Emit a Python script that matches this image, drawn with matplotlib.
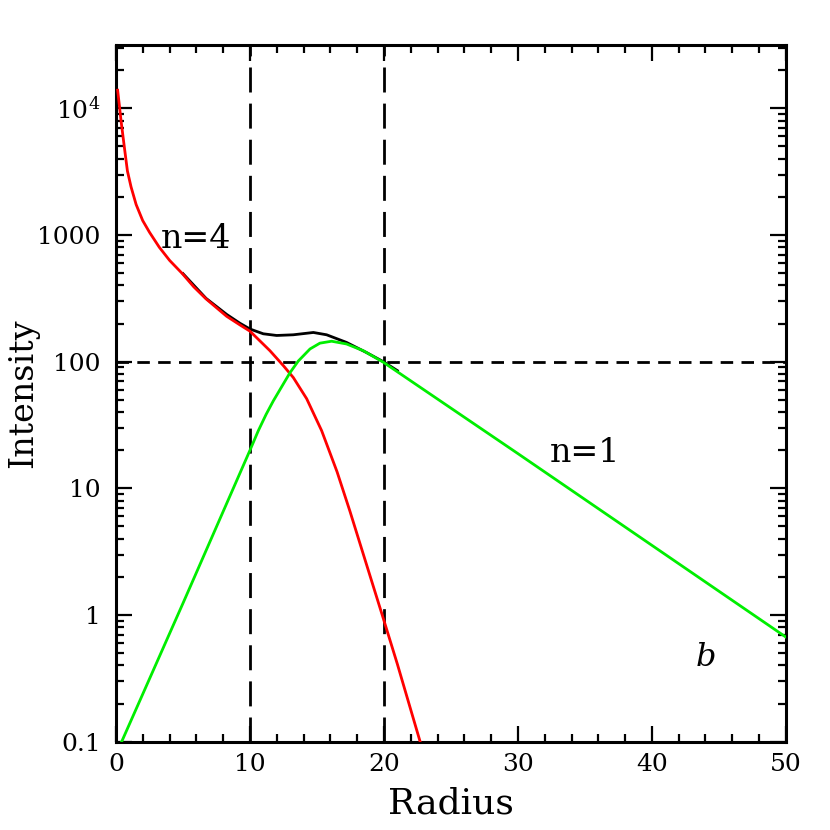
import matplotlib
matplotlib.use('Agg')
import matplotlib.pyplot as plt
from matplotlib.ticker import FixedLocator, FixedFormatter, MultipleLocator, LogLocator, NullFormatter

plt.rcParams['font.family'] = 'DejaVu Serif'
plt.rcParams['mathtext.fontset'] = 'dejavuserif'
plt.rcParams['lines.scale_dashes'] = False

# values (radius, intensity)
r_n4 = [0.12, 0.25, 0.37, 0.62, 0.85, 1.12, 1.5, 1.99, 2.5, 3.23, 4.0, 4.97, 5.8, 6.72, 8.26, 9.25,
        10.0, 11.49, 12.49, 13.23, 14.23, 15.35, 16.5, 17.46, 18.7, 19.95, 21.0, 22.7]
i_n4 = [13900, 10500, 8040, 4940, 3200, 2400, 1740, 1300, 1050, 800, 630, 493, 390, 313, 228, 195,
        174, 122, 93, 75, 51, 28.5, 13.5, 6.6, 2.5, 0.94, 0.41, 0.1]

r_n1 = [0.42, 5.0, 10.0, 10.62, 11.2, 11.74, 12.99, 13.6, 14.48, 15.22, 16.09, 17.2, 18.46, 19.95,
        30.0, 40.0, 50.0]
i_n1 = [0.1, 1.24, 20, 28.5, 38.3, 49, 82, 101, 126, 140, 145, 138, 122, 99,
        18.8, 3.55, 0.67]

r_tot = [5.0, 6.72, 8.26, 9.25, 10.0, 10.99, 11.99, 13.23, 14.73, 15.72, 17.2, 18.7, 19.95, 21.0]
i_tot = [495, 316, 236, 201, 181, 166, 161, 163, 170, 163, 142, 118, 100, 85]

v_lines = [10, 20]
h_line = 100

y_ticks = [0.1, 1, 10, 100, 1000, 1e4]
y_labels = ['0.1', '1', '10', '100', '1000', r'$10^4$']

fig = plt.figure(figsize=(8.3, 8.3), dpi=100)
ax = fig.add_axes([0.1398, 0.1064, 0.807, 0.8394])

ax.plot(r_tot, i_tot, color='black', lw=2, zorder=3)
ax.plot(r_n4, i_n4, color='#ff0000', lw=2, zorder=4)
ax.plot(r_n1, i_n1, color='#00ee00', lw=2, zorder=4)

for v in v_lines:
    ax.axvline(v, color='black', lw=2, dashes=(18, 8), zorder=2)
ax.axhline(h_line, color='black', lw=2, dashes=(9, 6), zorder=2)

ax.set_yscale('log')
ax.set_xlim(0, 50)
ax.set_ylim(0.1, 10 ** 4.5)

ax.xaxis.set_major_locator(MultipleLocator(10))
ax.xaxis.set_minor_locator(MultipleLocator(2))
ax.yaxis.set_major_locator(FixedLocator(y_ticks))
ax.yaxis.set_major_formatter(FixedFormatter(y_labels))
ax.yaxis.set_minor_locator(LogLocator(base=10, subs=range(2, 10)))
ax.yaxis.set_minor_formatter(NullFormatter())

ax.tick_params(which='both', direction='in', top=True, right=True, width=1.6, labelsize=18)
ax.tick_params(which='major', length=11.5)
ax.tick_params(which='minor', length=5.8)
ax.tick_params(axis='x', which='major', pad=8)
ax.tick_params(axis='y', which='major', pad=11)
for s in ax.spines.values():
    s.set_linewidth(2.2)

ax.text(6.0, 935, 'n=4', fontsize=24, ha='center', va='center')
ax.text(35.0, 19, 'n=1', fontsize=24, ha='center', va='center')
ax.text(44.0, 0.46, 'b', fontsize=23, style='italic', ha='center', va='center')

ax.set_xlabel('Radius', fontsize=26, labelpad=8)
ax.set_ylabel('Intensity', fontsize=24, va='center')
ax.yaxis.set_label_coords(-0.138, 0.5)

fig.savefig('out.png', dpi=100)
